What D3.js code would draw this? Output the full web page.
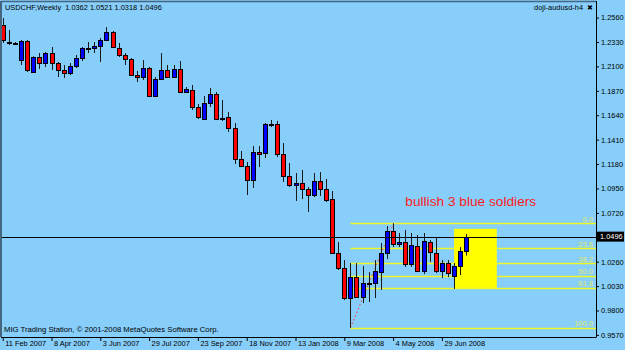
<!DOCTYPE html>
<html>
<head>
<meta charset="utf-8">
<script src="https://cdn.jsdelivr.net/npm/d3@7"></script>
<style>
body { margin: 0; background: #87cefa; }
svg { display: block; }
.small { font-family: "Liberation Sans", Arial, sans-serif; font-size: 7.4px; fill: #000; }
</style>
</head>
<body>
<div id="vis"></div>
<script>
// USDCHF weekly chart, MT4 style

// declare constants
const FRAME_WIDTH = 625;
const FRAME_HEIGHT = 350;
const PLOT = {left: 1.5, top: 1.5, right: 596, bottom: 337};

// weekly candles, first bar is the week of 11 Feb 2007
const START = Date.UTC(2007, 1, 11);
const OPENS = [1.2490, 1.2322, 1.2318, 1.2160, 1.2340, 1.2047, 1.2189, 1.2132, 1.2226, 1.2132,
               1.2066, 1.2038, 1.2104, 1.2179, 1.2270, 1.2274, 1.2292, 1.2349, 1.2424, 1.2274,
               1.2208, 1.2170, 1.2019, 1.2000, 1.2085, 1.1821, 1.1981, 1.2066, 1.2000, 1.2076,
               1.1859, 1.1878, 1.1718, 1.1604, 1.1755, 1.1840, 1.1600, 1.1623, 1.1520, 1.1227,
               1.1161, 1.1030, 1.1293, 1.1284, 1.1557, 1.1557, 1.1274, 1.1067, 1.0982, 1.1001,
               1.0945, 1.0888, 1.1020, 1.0945, 1.0850, 1.0341, 1.0200, 0.9917, 1.0115, 0.9927,
               1.0056, 1.0059, 1.0162, 1.0341, 1.0549, 1.0426, 1.0445, 1.0238, 1.0407, 1.0172,
               1.0445, 1.0341, 1.0172, 1.0247, 1.0125, 1.0219, 1.0362];
const HIGHS = [1.2556, 1.2443, 1.2330, 1.2349, 1.2349, 1.2195, 1.2226, 1.2236, 1.2283, 1.2142,
               1.2113, 1.2132, 1.2208, 1.2283, 1.2330, 1.2330, 1.2368, 1.2471, 1.2434, 1.2321,
               1.2226, 1.2179, 1.2057, 1.2160, 1.2095, 1.2000, 1.2226, 1.2113, 1.2113, 1.2151,
               1.1906, 1.1925, 1.1746, 1.1821, 1.1897, 1.1859, 1.1783, 1.1670, 1.1567, 1.1303,
               1.1199, 1.1350, 1.1350, 1.1567, 1.1595, 1.1586, 1.1378, 1.1190, 1.1095, 1.1124,
               1.0963, 1.1095, 1.1105, 1.1039, 1.0926, 1.0445, 1.0275, 1.0247, 1.0247, 1.0219,
               1.0162, 1.0275, 1.0436, 1.0596, 1.0621, 1.0530, 1.0558, 1.0530, 1.0511, 1.0530,
               1.0464, 1.0492, 1.0275, 1.0275, 1.0247, 1.0398, 1.0521];
const LOWS = [1.2321, 1.2302, 1.2311, 1.2113, 1.2047, 1.2038, 1.2076, 1.2095, 1.2066, 1.2000,
              1.1991, 1.2019, 1.2085, 1.2151, 1.2226, 1.2226, 1.2142, 1.2340, 1.2274, 1.2189,
              1.2113, 1.2010, 1.1953, 1.1972, 1.1812, 1.1812, 1.1972, 1.1991, 1.1991, 1.1849,
              1.1849, 1.1689, 1.1604, 1.1595, 1.1718, 1.1595, 1.1586, 1.1482, 1.1180, 1.1152,
              1.0888, 1.0954, 1.1152, 1.1237, 1.1529, 1.1246, 1.1011, 1.0963, 1.0832, 1.0850,
              1.0728, 1.0869, 1.0879, 1.0822, 1.0332, 1.0181, 0.9898, 0.9637, 0.9917, 0.9870,
              0.9880, 0.9917, 0.9993, 1.0285, 1.0398, 1.0398, 1.0210, 1.0210, 1.0162, 1.0143,
              1.0257, 1.0153, 1.0106, 1.0115, 1.0002, 1.0134, 1.0318];
const CLOSES = [1.2349, 1.2330, 1.2322, 1.2340, 1.2066, 1.2189, 1.2132, 1.2226, 1.2132, 1.2066,
                1.2038, 1.2104, 1.2179, 1.2274, 1.2276, 1.2292, 1.2349, 1.2424, 1.2283, 1.2208,
                1.2170, 1.2019, 1.2000, 1.2085, 1.1821, 1.1981, 1.2066, 1.2000, 1.2076, 1.1859,
                1.1887, 1.1718, 1.1623, 1.1755, 1.1840, 1.1604, 1.1614, 1.1520, 1.1227, 1.1161,
                1.1030, 1.1293, 1.1274, 1.1557, 1.1560, 1.1274, 1.1067, 1.0982, 1.1001, 1.0945,
                1.0888, 1.1020, 1.0945, 1.0841, 1.0341, 1.0200, 0.9917, 1.0115, 0.9927, 1.0059,
                1.0062, 1.0172, 1.0341, 1.0549, 1.0426, 1.0445, 1.0238, 1.0417, 1.0172, 1.0455,
                1.0351, 1.0172, 1.0247, 1.0153, 1.0219, 1.0360, 1.0496];

// axis labels
const PRICE_TICKS = [0.9570, 0.9800, 1.0030, 1.0260, 1.0490, 1.0720, 1.0950, 1.1180,
                     1.1410, 1.1640, 1.1870, 1.2100, 1.2330, 1.2560];
const DATE_TICK_WEEKS = [0, 8, 16, 24, 32, 40, 48, 56, 64, 72];

// fibonacci retracement between bar 58 low and bar 65 high
const FIB_FROM = 57, FIB_TO = 64;
const FIB_LEVELS = [0, 23.6, 38.2, 50, 61.8, 100];
const FIB_LABELS = ["0.0", "23.6", "38.2", "50.0", "61.8", "100.0"];

// highlight box and note
const BOX = {from: 74, to: 81, top: 1.0570, bottom: 1.0013};
const NOTE = {text: "bullish 3 blue soldiers", week: 66.2, price: 1.0784};

const weekDate = i => d3.utcWeek.offset(new Date(START), i);

const data = CLOSES.map((c, i) => ({
	date: weekDate(i), open: OPENS[i], high: HIGHS[i], low: LOWS[i], close: c
}));

const svg = d3.select("#vis")
				.append("svg")
					.attr("width", FRAME_WIDTH)
					.attr("height", FRAME_HEIGHT);

// scales
const X_SCALE = d3.scaleUtc()
					.domain([weekDate(0), weekDate(97)])
					.range([2.7, 594.4]);
const Y_SCALE = d3.scaleLinear()
					.domain([0.957, 1.256])
					.range([334.9, 17.6]);

const px = d => Math.round(X_SCALE(d)) + 0.5;

// highlight rectangle (under the candles)
svg.append("rect")
	.attr("x", X_SCALE(weekDate(BOX.from)))
	.attr("y", Y_SCALE(BOX.top))
	.attr("width", X_SCALE(weekDate(BOX.to)) - X_SCALE(weekDate(BOX.from)))
	.attr("height", Y_SCALE(BOX.bottom) - Y_SCALE(BOX.top))
	.attr("fill", "#ffff00");

// fib levels
const fibHigh = HIGHS[FIB_TO], fibLow = LOWS[FIB_FROM];
const fibs = FIB_LEVELS.map((l, i) => ({price: fibHigh - l / 100 * (fibHigh - fibLow), label: FIB_LABELS[i]}));

svg.selectAll(".fib")
	.data(fibs)
	.enter().append("line")
		.attr("x1", px(weekDate(FIB_FROM)))
		.attr("x2", PLOT.right)
		.attr("y1", d => Math.round(Y_SCALE(d.price)) + 0.5)
		.attr("y2", d => Math.round(Y_SCALE(d.price)) + 0.5)
		.attr("stroke", "#ffff00")
		.attr("stroke-opacity", 0.85)
		.attr("stroke-width", 1.3);

svg.selectAll(".fibtxt")
	.data(fibs)
	.enter().append("text")
		.attr("class", "small")
		.attr("x", 593)
		.attr("y", d => Y_SCALE(d.price) - 1.5)
		.attr("text-anchor", "end")
		.style("fill", "#e4ec5c")
		.text(d => d.label);

// fib trend line (dotted)
svg.append("line")
	.attr("x1", px(weekDate(FIB_FROM)))
	.attr("y1", Y_SCALE(fibLow))
	.attr("x2", px(weekDate(FIB_TO)))
	.attr("y2", Y_SCALE(fibHigh))
	.attr("stroke", "#ff3030")
	.attr("stroke-width", 1)
	.attr("stroke-dasharray", "1.5,2.5");

// candles
const candle = svg.selectAll(".candle")
					.data(data)
					.enter().append("g")
						.attr("class", "candle");

candle.append("line")
	.attr("x1", d => px(d.date))
	.attr("x2", d => px(d.date))
	.attr("y1", d => Y_SCALE(d.high))
	.attr("y2", d => Y_SCALE(d.low))
	.attr("stroke", "#1a1a1a")
	.attr("stroke-width", 1);

candle.append("rect")
	.attr("x", d => px(d.date) - 2)
	.attr("y", d => Math.round(Y_SCALE(Math.max(d.open, d.close))) + 0.5)
	.attr("width", 4)
	.attr("height", d => Math.max(1, Math.round(Math.abs(Y_SCALE(d.open) - Y_SCALE(d.close)))))
	.attr("fill", d => d.close >= d.open ? "#0000ff" : "#ff0000")
	.attr("stroke", "#000")
	.attr("stroke-width", 1);

// current price line
const last = CLOSES[CLOSES.length - 1];
svg.append("line")
	.attr("x1", 2).attr("x2", PLOT.right)
	.attr("y1", Math.round(Y_SCALE(last)) + 0.5)
	.attr("y2", Math.round(Y_SCALE(last)) + 0.5)
	.attr("stroke", "#000");

// note text
svg.append("text")
	.attr("x", X_SCALE(weekDate(NOTE.week)))
	.attr("y", Y_SCALE(NOTE.price))
	.attr("font-family", "Liberation Sans, Arial, sans-serif")
	.attr("font-size", "13.7px")
	.attr("fill", "#ff1a1a")
	.text(NOTE.text);

// frame
svg.append("line").attr("x1", 1).attr("x2", 1).attr("y1", 1).attr("y2", PLOT.bottom)
	.attr("stroke", "#46657e").attr("stroke-width", 2);
svg.append("line").attr("x1", 1).attr("x2", PLOT.right).attr("y1", 1.5).attr("y2", 1.5)
	.attr("stroke", "#46657e").attr("stroke-width", 1.5);

// price axis on the right
const yAxis = svg.append("g")
	.attr("transform", "translate(" + PLOT.right + ",0)")
	.call(d3.axisRight(Y_SCALE).tickValues(PRICE_TICKS).tickSize(3).tickPadding(2)
		.tickFormat(d3.format(".4f")));
yAxis.select(".domain").attr("d", "M0.5," + 1 + "V" + PLOT.bottom).attr("stroke", "#000");
yAxis.selectAll("text").attr("class", "small").attr("font-size", null).attr("font-family", null);

// date axis at the bottom
const xAxis = svg.append("g")
	.attr("transform", "translate(0," + PLOT.bottom + ")")
	.call(d3.axisBottom(X_SCALE).tickValues(DATE_TICK_WEEKS.map(weekDate)).tickSize(4)
		.tickFormat(d3.utcFormat("%-d %b %Y")));
xAxis.select(".domain").attr("d", "M1,0.5H" + (PLOT.right + 0.5)).attr("stroke", "#000");
xAxis.selectAll("text")
	.attr("class", "small").attr("font-size", null).attr("font-family", null)
	.attr("text-anchor", "start")
	.attr("x", 2)
	.attr("y", 4)
	.attr("dy", "0.71em");

// current price box
svg.append("rect")
	.attr("x", 597).attr("y", Y_SCALE(last) - 5)
	.attr("width", 27).attr("height", 10)
	.attr("fill", "#000");
svg.append("text")
	.attr("class", "small")
	.attr("x", 600).attr("y", Y_SCALE(last) + 2.7)
	.style("fill", "#fff")
	.text(d3.format(".4f")(last));

// header texts
svg.append("text").attr("class", "small").attr("x", 5).attr("y", 10)
	.attr("xml:space", "preserve")
	.text("USDCHF,Weekly  " + [OPENS, HIGHS, LOWS, CLOSES].map(a => a[a.length - 1].toFixed(4)).join(" "));
svg.append("text").attr("class", "small").attr("x", 583).attr("y", 10)
	.attr("text-anchor", "end")
	.text("doji-audusd-h4");
svg.append("text").attr("x", 590).attr("y", 10)
	.attr("text-anchor", "middle")
	.attr("font-family", "DejaVu Sans").attr("font-size", "7px")
	.text("✖");
svg.append("text").attr("class", "small").attr("x", 4).attr("y", 332)
	.style("font-size", "7.7px")
	.text("MIG Trading Station, © 2001-2008 MetaQuotes Software Corp.");
</script>
</body>
</html>
